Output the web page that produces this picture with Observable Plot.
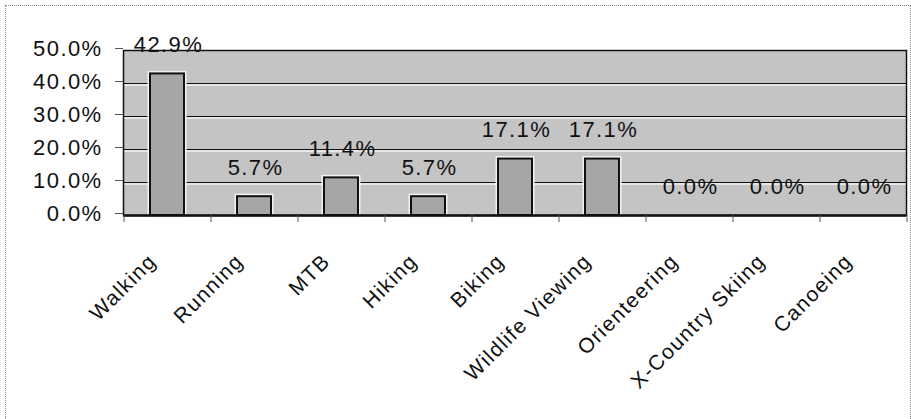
<!DOCTYPE html>
<html>
<head>
<meta charset="utf-8">
<script src="https://cdn.jsdelivr.net/npm/d3@7"></script>
<script src="https://cdn.jsdelivr.net/npm/@observablehq/plot@0.6"></script>
<style>
  html, body { margin: 0; padding: 0; background: #fff; }
  #wrap { position: relative; width: 911px; height: 419px; overflow: hidden; }
  #border { position: absolute; left: 5px; top: 5px; width: 904px; height: 420px;
            border: 1px dotted #8a8a8a; pointer-events: none; }
  #chart svg text { letter-spacing: 1.4px; }
</style>
</head>
<body>
<div id="wrap"><div id="chart"></div><div id="border"></div></div>
<script>
const categories = ["Walking", "Running", "MTB", "Hiking", "Biking", "Wildlife Viewing", "Orienteering", "X-Country Skiing", "Canoeing"];
const shares = [0.429, 0.057, 0.114, 0.057, 0.171, 0.171, 0.0, 0.0, 0.0];
const yTicks = [0, 0.1, 0.2, 0.3, 0.4, 0.5];

const data = categories.map((c, i) => ({category: c, share: shares[i]}));

const W = 911, H = 419, mL = 123, mR = 5, mT = 50, mB = 204;
const step = (W - mL - mR) / categories.length;
const font = "Liberation Sans, Arial, sans-serif";
const fmt = d3.format(".1%");

const chart = Plot.plot({
  width: W, height: H,
  marginLeft: mL, marginRight: mR, marginTop: mT, marginBottom: mB,
  style: {fontFamily: font, fontSize: "22px", color: "#111", background: "transparent"},
  x: {domain: categories, paddingInner: 0.61, paddingOuter: 0.305, label: null},
  y: {domain: [0, 0.5], label: null},
  marks: [
    Plot.frame({fill: "#c4c4c4", stroke: "none"}),
    Plot.ruleY(yTicks.slice(1, -1), {stroke: "#f2f2f2", strokeWidth: 1.5, dy: 1.5}),
    Plot.ruleY(yTicks.slice(1, -1), {stroke: "#111", strokeWidth: 1.2}),
    Plot.barY(data, {x: "category", y: "share", fill: "none", stroke: "#f2f2f2", strokeWidth: 5}),
    Plot.barY(data, {x: "category", y: "share", fill: "#a6a6a6", stroke: "#111", strokeWidth: 2}),
    Plot.frame({stroke: "#111", strokeWidth: 1.5}),
    Plot.ruleY([0], {stroke: "#111", strokeWidth: 2.5}),
    Plot.text(data, {x: "category", y: "share", text: d => fmt(d.share), dy: -29, dx: 1,
      fontSize: 22, fill: "#111", fontFamily: font}),
    Plot.axisY({ticks: yTicks, tickFormat: d3.format(".1%"), tickSize: 8, tickPadding: 13,
      fontSize: 22, stroke: "#555", dy: -2, label: null}),
    Plot.axisX({tickSize: 7, dx: -step / 2, tickFormat: null, stroke: "#555"}),
    Plot.axisX(categories.slice(-1), {tickSize: 7, dx: step / 2, tickFormat: null, stroke: "#555"}),
    Plot.text(categories, {x: d => d, frameAnchor: "bottom", rotate: -45, textAnchor: "end",
      lineAnchor: "bottom", dx: -10, dy: 47, fontSize: 21, fill: "#111", fontFamily: font})
  ]
});
document.getElementById("chart").appendChild(chart);
</script>
</body>
</html>
